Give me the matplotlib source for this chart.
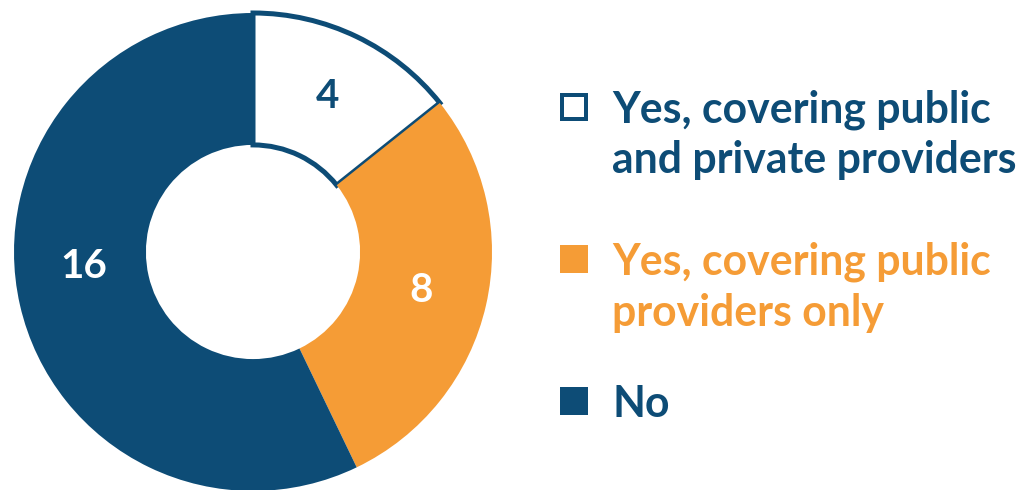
import matplotlib
matplotlib.use("Agg")
import numpy as np
import matplotlib.pyplot as plt
from matplotlib.patches import Rectangle

# datos del gráfico
categorias = ["Yes, covering public\nand private providers",
              "Yes, covering public\nproviders only",
              "No"]
valores = [4, 8, 16]
colores = ["#FFFFFF", "#F59C36", "#0D4C76"]
colores_texto = ["#0D4C76", "#F59C36", "#0D4C76"]
colores_etiqueta = ["#0D4C76", "#FFFFFF", "#FFFFFF"]

AZUL = "#0D4C76"
W, H = 1033, 490
FUENTE = "Lato"

fig = plt.figure(figsize=(W / 100, H / 100), dpi=100)

# donut: centro (253, 252) px, radio 239 px
cx, cy, r = 253, 252, 239
ax = fig.add_axes([(cx - r) / W, (H - cy - r) / H, 2 * r / W, 2 * r / H])
wedges, textos, autotextos = ax.pie(
    valores, colors=colores, startangle=90, counterclock=False,
    radius=1, wedgeprops=dict(width=0.552, linewidth=0),
    autopct=lambda p: f"{round(p * sum(valores) / 100):d}",
    pctdistance=0.72)
wedges[0].set_edgecolor(AZUL)
wedges[0].set_linewidth(3.6)
for t, c in zip(autotextos, colores_etiqueta):
    t.set_color(c)
    t.set_fontsize(29)
    t.set_fontweight("bold")
    t.set_fontfamily(FUENTE)

# la etiqueta del segmento grande va un poco más arriba del centro angular
w = wedges[2]
ang = np.deg2rad((w.theta1 + w.theta2) / 2 - 8)
autotextos[2].set_position((0.71 * np.cos(ang), 0.71 * np.sin(ang)))

ax.set_xlim(-1, 1)
ax.set_ylim(-1, 1)
ax.set_aspect("equal")
ax.axis("off")

# leyenda manual
cuadros_y = [93, 245, 387]   # borde superior del cuadro, px
base_y = [122, 275, 417]     # línea base de la primera línea, px
interlinea = 51
for i, cat in enumerate(categorias):
    lw_px = 4
    x0 = 560 + lw_px / 2
    y0 = cuadros_y[i] + lw_px / 2
    lado = 28 - lw_px
    rect = Rectangle((x0 / W, 1 - (y0 + lado) / H), lado / W, lado / H,
                     transform=fig.transFigure, facecolor=colores[i],
                     edgecolor=colores_texto[i], linewidth=lw_px * 0.72)
    fig.patches.append(rect)
    for j, linea in enumerate(cat.split("\n")):
        fig.text(612 / W, 1 - (base_y[i] + j * interlinea) / H, linea,
                 color=colores_texto[i], fontsize=30.8, fontweight="bold",
                 fontfamily=FUENTE, va="baseline", ha="left")

fig.savefig("out.png", dpi=100, facecolor="white")
